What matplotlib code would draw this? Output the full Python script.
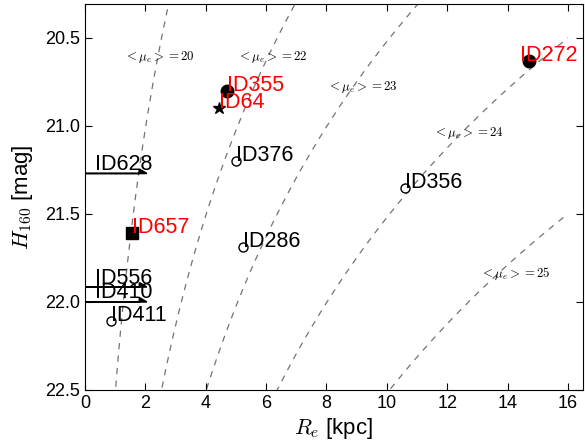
import numpy as np
import matplotlib
matplotlib.use('Agg')
from matplotlib import pyplot as plt

plt.rcParams['font.family'] = ['Liberation Sans', 'DejaVu Sans']
plt.rcParams['mathtext.fontset'] = 'cm'

# galaxies with measured sizes
names = ['ID355', 'ID64', 'ID272', 'ID376', 'ID356', 'ID657', 'ID286', 'ID411']
re_kpc = [4.70, 4.43, 14.70, 5.00, 10.60, 1.55, 5.25, 0.86]
h160 = [20.80, 20.90, 20.63, 21.20, 21.35, 21.61, 21.69, 22.11]
red_names = ['ID355', 'ID64', 'ID272', 'ID657']

# upper limits on size (arrows)
lim_names = ['ID628', 'ID556', 'ID410']
lim_re = [2.1, 2.1, 2.1]
lim_h160 = [21.27, 21.915, 22.0]

# lines of constant mean surface brightness
mu_levels = [20, 22, 23, 24, 25]
mu_label_x = [2.45, 6.2, 9.2, 12.7, 14.25]
mu_label_y = [20.61, 20.61, 20.78, 21.04, 21.84]
mu_offset = 2.52   # mag, kpc -> arcsec and 2*pi factor

fig = plt.figure(figsize=(5.85, 4.48), dpi=100)
ax = fig.add_axes([0.1453, 0.1295, 0.8513, 0.8615])

rr = np.linspace(0.5, 16, 300)
for mu, lx, ly in zip(mu_levels, mu_label_x, mu_label_y):
    ax.plot(rr, mu + mu_offset - 5 * np.log10(rr), color='0.45', lw=0.9,
            ls=(0, (5, 5)), zorder=1)
    ax.text(lx, ly, r'$<\mu_e>=%d$' % mu, fontsize=9.3, ha='center', va='center', zorder=2)

marker_of = {'ID64': '*', 'ID657': 's'}
size_of = {'ID64': 9, 'ID657': 8}
label_dx = {'ID272': -0.3}
for n, x, y in zip(names, re_kpc, h160):
    filled = n in red_names
    m = marker_of.get(n, 'o')
    ms = size_of.get(n, 9 if filled else 6.5)
    ax.plot(x, y, marker=m, ms=ms, mfc='k' if filled else 'w', mec='k', mew=1, zorder=3)
    ax.text(x + label_dx.get(n, 0), y, n, fontsize=15.5,
            color='red' if filled else 'k', zorder=4)

for n, x, y in zip(lim_names, lim_re, lim_h160):
    ax.arrow(0, y, x - 0.05, 0, head_width=0.05, head_length=0.25, shape='left',
             length_includes_head=True, fc='k', ec='k', lw=1.1, zorder=3)
    ax.text(0.33, y - 0.02, n, fontsize=15.5, color='k', zorder=4)

ax.set_xlim(0, 16.5)
ax.set_ylim(22.5, 20.307)
ax.set_xticks(np.arange(0, 17, 2))
ax.set_yticks([20.5, 21.0, 21.5, 22.0, 22.5])
ax.tick_params(direction='in', top=True, right=True, length=5, labelsize=13)
ax.set_xlabel(r'$R_e$ [kpc]', fontsize=16, labelpad=3)
ax.set_ylabel(r'$H_{160}$ [mag]', fontsize=16, labelpad=7)

plt.savefig('out.png', dpi=100)
